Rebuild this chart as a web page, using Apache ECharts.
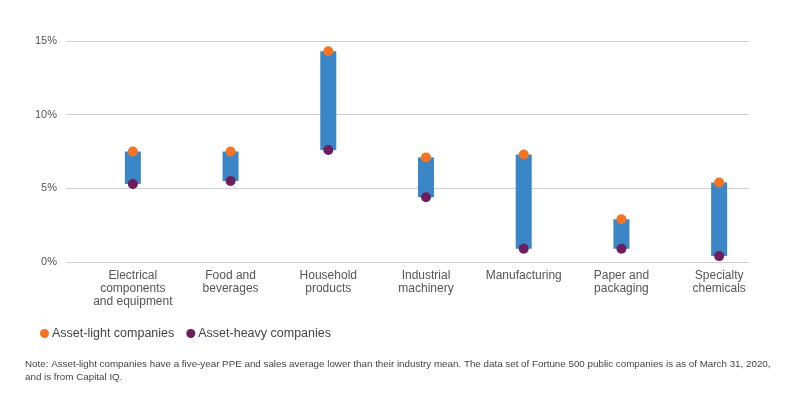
<!DOCTYPE html>
<html>
<head>
<meta charset="utf-8">
<script src="https://cdn.jsdelivr.net/npm/echarts@6/dist/echarts.min.js"></script>
<style>html,body{margin:0;padding:0;background:#fff;}#c{width:800px;height:393px;}</style>
</head>
<body>
<div id="c"></div>
<script>
const categories = ["Electrical\ncomponents\nand equipment", "Food and\nbeverages", "Household\nproducts", "Industrial\nmachinery", "Manufacturing", "Paper and\npackaging", "Specialty\nchemicals"];
const assetLight = [7.5, 7.5, 14.3, 7.1, 7.3, 2.9, 5.4];
const assetHeavy = [5.3, 5.5, 7.6, 4.4, 0.9, 0.9, 0.4];
const yTicks = [0, 5, 10, 15];
const noteText = "Note: Asset-light companies have a five-year PPE and sales average lower than their industry mean. The data set of Fortune 500 public companies is as of March 31, 2020,\nand is from Capital IQ.";

const rangeBase = assetHeavy.slice();
const rangeSpan = assetLight.map((v, i) => +(v - assetHeavy[i]).toFixed(2));

const chart = echarts.init(document.getElementById('c'));
const fontFam = '"Liberation Sans", Arial, sans-serif';
chart.setOption({
  animation: false,
  textStyle: { fontFamily: fontFam },
  grid: [
    { left: 66, right: 51, top: 41, bottom: 131 },
    { left: 84, right: 32, top: 41, bottom: 131 }
  ],
  xAxis: [
    { gridIndex: 0, type: 'category', data: categories, show: false },
    { gridIndex: 1, type: 'category', data: categories,
      axisLine: { show: false }, axisTick: { show: false },
      axisLabel: { color: '#555', fontSize: 12, lineHeight: 13, margin: 7, interval: 0, fontFamily: fontFam } }
  ],
  yAxis: [
    { gridIndex: 0, type: 'value', min: 0, max: 15, interval: 5,
      axisLine: { show: false }, axisTick: { show: false },
      splitLine: { lineStyle: { color: '#cfcfcf', width: 1 } },
      axisLabel: { color: '#555', fontSize: 11, margin: 9, formatter: v => yTicks.includes(v) ? v + '%' : '' } },
    { gridIndex: 1, type: 'value', min: 0, max: 15, interval: 5, show: false, splitLine: { show: false } }
  ],
  legend: {
    data: ['Asset-light companies', 'Asset-heavy companies'],
    left: 35, top: 322, icon: 'circle', itemWidth: 9, itemHeight: 9, itemGap: 12,
    textStyle: { color: '#444', fontSize: 12.5, fontFamily: fontFam, padding: [0, 0, 0, -2] }
  },
  series: [
    { type: 'bar', xAxisIndex: 1, yAxisIndex: 1, stack: 'r', data: rangeBase, barWidth: 16,
      itemStyle: { color: 'transparent' }, silent: true },
    { type: 'bar', xAxisIndex: 1, yAxisIndex: 1, stack: 'r', data: rangeSpan, barWidth: 16,
      itemStyle: { color: '#3a86c7' } },
    { name: 'Asset-light companies', type: 'scatter', xAxisIndex: 1, yAxisIndex: 1, data: assetLight,
      symbolSize: 10, itemStyle: { color: '#f47421', opacity: 1 }, z: 5 },
    { name: 'Asset-heavy companies', type: 'scatter', xAxisIndex: 1, yAxisIndex: 1, data: assetHeavy,
      symbolSize: 10, itemStyle: { color: '#6e1d5e', opacity: 1 }, z: 5 }
  ],
  graphic: [
    { type: 'text', left: 25, top: 358, style: { text: noteText, fill: '#444', fontSize: 9.8, lineHeight: 13, fontFamily: fontFam } }
  ]
});
</script>
</body>
</html>
